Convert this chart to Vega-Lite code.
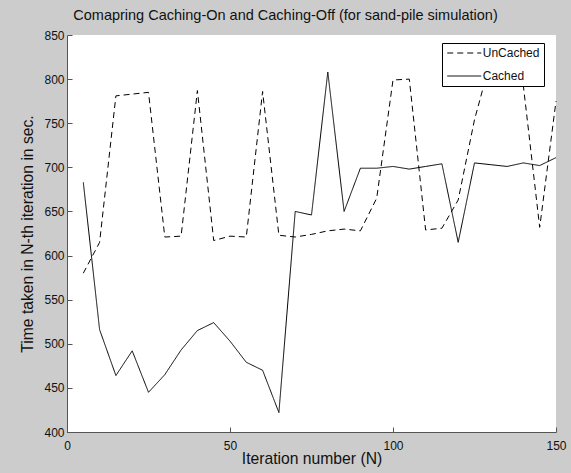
{
  "$schema": "https://vega.github.io/schema/vega-lite/v6.json",
  "width": 489,
  "height": 397,
  "autosize": "none",
  "padding": {"left": 67, "top": 35, "right": 15, "bottom": 41},
  "background": "#cccccc",
  "view": {"fill": "white", "stroke": null},
  "title": {
    "text": "Comapring Caching-On and Caching-Off (for sand-pile simulation)",
    "font": "Liberation Sans",
    "fontSize": 14.5,
    "fontWeight": "normal",
    "color": "#111111",
    "anchor": "middle",
    "frame": "group",
    "dx": -26,
    "offset": 6
  },
  "config": {
    "font": "Liberation Sans",
    "axis": {
      "grid": false,
      "domainColor": "#555555",
      "tickColor": "#555555",
      "labelColor": "#111111",
      "titleColor": "#111111",
      "labelFont": "Liberation Sans",
      "titleFont": "Liberation Sans",
      "labelFontSize": 12,
      "titleFontSize": 15.7,
      "titleFontWeight": "normal",
      "tickSize": -5,
      "labelFlush": false
    }
  },
  "data": {
    "values": [
      {"N": 5, "series": "UnCached", "time": 580},
      {"N": 10, "series": "UnCached", "time": 615},
      {"N": 15, "series": "UnCached", "time": 781},
      {"N": 20, "series": "UnCached", "time": 783},
      {"N": 25, "series": "UnCached", "time": 785},
      {"N": 30, "series": "UnCached", "time": 621},
      {"N": 35, "series": "UnCached", "time": 622},
      {"N": 40, "series": "UnCached", "time": 787},
      {"N": 45, "series": "UnCached", "time": 617},
      {"N": 50, "series": "UnCached", "time": 622},
      {"N": 55, "series": "UnCached", "time": 621},
      {"N": 60, "series": "UnCached", "time": 786},
      {"N": 65, "series": "UnCached", "time": 623},
      {"N": 70, "series": "UnCached", "time": 621},
      {"N": 75, "series": "UnCached", "time": 624},
      {"N": 80, "series": "UnCached", "time": 628},
      {"N": 85, "series": "UnCached", "time": 630},
      {"N": 90, "series": "UnCached", "time": 628},
      {"N": 95, "series": "UnCached", "time": 665},
      {"N": 100, "series": "UnCached", "time": 799},
      {"N": 105, "series": "UnCached", "time": 800},
      {"N": 110, "series": "UnCached", "time": 629},
      {"N": 115, "series": "UnCached", "time": 631},
      {"N": 120, "series": "UnCached", "time": 663},
      {"N": 125, "series": "UnCached", "time": 754},
      {"N": 130, "series": "UnCached", "time": 822},
      {"N": 135, "series": "UnCached", "time": 815},
      {"N": 140, "series": "UnCached", "time": 792},
      {"N": 145, "series": "UnCached", "time": 632},
      {"N": 150, "series": "UnCached", "time": 775},
      {"N": 5, "series": "Cached", "time": 683},
      {"N": 10, "series": "Cached", "time": 516},
      {"N": 15, "series": "Cached", "time": 464},
      {"N": 20, "series": "Cached", "time": 492},
      {"N": 25, "series": "Cached", "time": 445},
      {"N": 30, "series": "Cached", "time": 465},
      {"N": 35, "series": "Cached", "time": 493},
      {"N": 40, "series": "Cached", "time": 515},
      {"N": 45, "series": "Cached", "time": 524},
      {"N": 50, "series": "Cached", "time": 503},
      {"N": 55, "series": "Cached", "time": 479},
      {"N": 60, "series": "Cached", "time": 470},
      {"N": 65, "series": "Cached", "time": 422},
      {"N": 70, "series": "Cached", "time": 650},
      {"N": 75, "series": "Cached", "time": 646},
      {"N": 80, "series": "Cached", "time": 808},
      {"N": 85, "series": "Cached", "time": 650},
      {"N": 90, "series": "Cached", "time": 699},
      {"N": 95, "series": "Cached", "time": 699},
      {"N": 100, "series": "Cached", "time": 701},
      {"N": 105, "series": "Cached", "time": 698},
      {"N": 110, "series": "Cached", "time": 701},
      {"N": 115, "series": "Cached", "time": 704},
      {"N": 120, "series": "Cached", "time": 615},
      {"N": 125, "series": "Cached", "time": 705},
      {"N": 130, "series": "Cached", "time": 703},
      {"N": 135, "series": "Cached", "time": 701},
      {"N": 140, "series": "Cached", "time": 705},
      {"N": 145, "series": "Cached", "time": 702},
      {"N": 150, "series": "Cached", "time": 711}
    ]
  },
  "mark": {"type": "line", "strokeWidth": 1, "color": "black"},
  "encoding": {
    "x": {
      "field": "N",
      "type": "quantitative",
      "scale": {"domain": [0, 150], "nice": false, "zero": false},
      "axis": {"values": [0, 50, 100, 150], "title": "Iteration number (N)", "labelPadding": 13, "titlePadding": 0}
    },
    "y": {
      "field": "time",
      "type": "quantitative",
      "scale": {"domain": [400, 850], "nice": false, "zero": false},
      "axis": {"values": [400, 450, 500, 550, 600, 650, 700, 750, 800, 850], "title": "Time taken in N-th iteration in sec.", "labelPadding": 8, "titlePadding": 8}
    },
    "strokeDash": {
      "field": "series",
      "type": "nominal",
      "scale": {"domain": ["UnCached", "Cached"], "range": [[6, 4], [1, 0]]},
      "legend": {
        "title": null,
        "orient": "none",
        "legendX": 375,
        "legendY": 8,
        "fillColor": "white",
        "strokeColor": "black",
        "padding": 4,
        "symbolType": "M-4,0H4",
        "symbolSize": 72.25,
        "symbolOffset": 12.25,
        "symbolStrokeColor": "black",
        "symbolStrokeWidth": 1,
        "labelFont": "Liberation Sans",
        "labelFontSize": 12,
        "labelColor": "#111111",
        "labelOffset": 12.5,
        "rowPadding": 11
      }
    }
  }
}
